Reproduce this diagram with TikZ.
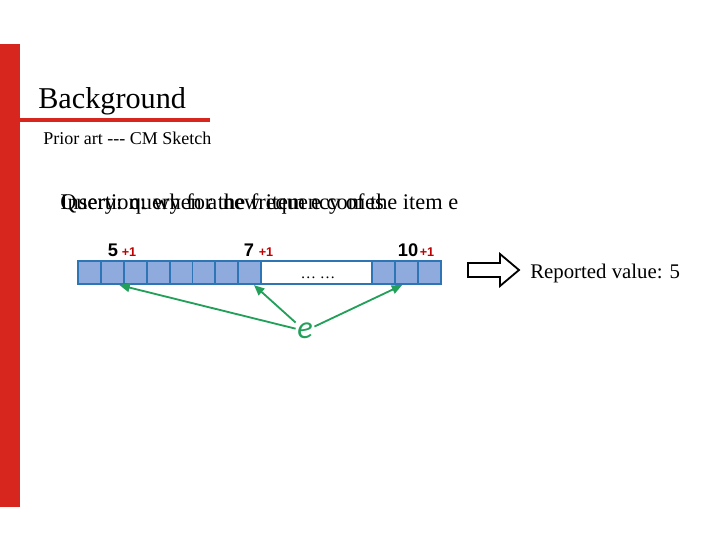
\documentclass[tikz,border=0pt]{standalone}
\usepackage{fontspec}
\setmainfont{Liberation Serif}
\newfontfamily\arialfont{Liberation Sans}
\newfontfamily\calfont{Carlito}
\usetikzlibrary{arrows.meta}
\definecolor{sred}{HTML}{D7261E}
\definecolor{cblue}{HTML}{2E75B6}
\definecolor{cfill}{HTML}{8FAADC}
\definecolor{agreen}{HTML}{22A05A}
\definecolor{pred}{HTML}{C00000}

\begin{document}
\begin{tikzpicture}[x=0.025cm, y=-0.025cm,
  cell/.style={draw=cblue, fill=cfill, line width=1.4pt, minimum width=0.5725cm, minimum height=0.58cm, inner sep=0pt},
  cnt/.style={font=\arialfont\bfseries\fontsize{13}{13}\selectfont, anchor=base},
  plus/.style={font=\arialfont\bfseries\fontsize{9}{9}\selectfont, text=pred, anchor=base},
  hash/.style={draw=agreen, line width=1.3pt, -{Triangle[length=2.6mm, width=2.2mm]}}]
 \useasboundingbox (0,0) rectangle (720,540);
 % slide frame
 \fill[sred] (0,44) rectangle (20,507);
 \draw[sred, line width=2.2pt] (20,120) -- (210,120);
 \node[anchor=base west, inner sep=0pt, font=\fontsize{21.5}{22}\selectfont] (title) at (38,108) {Background};
 \node[anchor=base west, inner sep=0pt, font=\fontsize{12.8}{13}\selectfont] (sub) at (43,144) {Prior art {-}{-}{-} CM Sketch};
 % overlaid captions
 \node[anchor=base west, inner sep=0pt, font=\fontsize{15.9}{16}\selectfont] (ins) at (60,209) {Insertion: when a new item e comes};
 \node[anchor=base west, inner sep=0pt, font=\fontsize{15.9}{16}\selectfont] (qry) at (60,209) {Query: query for the frequency of the item e};
 % counter array
 \draw[cblue, line width=1.4pt] (78,261) rectangle (441,284);
 \foreach \i in {1,...,8}
  \node[cell] (c\i) at ({78+11.45+(\i-1)*22.9},272.5) {};
 \foreach \i in {9,10,11}
  \node[cell] (c\i) at ({372+11.45+(\i-9)*22.9},272.5) {};
 \node[font=\fontsize{11}{11}\selectfont, anchor=base] (dots) at (318,278) {\dots\ \dots};
 \node[cnt] (n5) at (113,256) {5};
 \node[plus] (p5) at (129,256) {+1};
 \node[cnt] (n7) at (249,256) {7};
 \node[plus] (p7) at (266,256) {+1};
 \node[cnt] (n10) at (408,256) {10};
 \node[plus] (p10) at (427,256) {+1};
 % hashed item
 \node[font=\calfont\itshape\fontsize{23}{23}\selectfont, text=agreen, inner sep=1pt] (e) at (305,331) {e};
 \draw[hash] (e) -- ([xshift=5]c2.south);
 \draw[hash] (e) -- ([xshift=3]c8.south);
 \draw[hash] (e) -- ([xshift=-3]c10.south);
 % result
 \draw[line width=1.3pt] (468,263) -- (500,263) -- (500,254) -- (519,270) -- (500,286) -- (500,277) -- (468,277) -- cycle;
 \node[anchor=base west, inner sep=0pt, font=\fontsize{14.8}{15}\selectfont] (res) at (530,278) {Reported value: 5};
\end{tikzpicture}
\end{document}
